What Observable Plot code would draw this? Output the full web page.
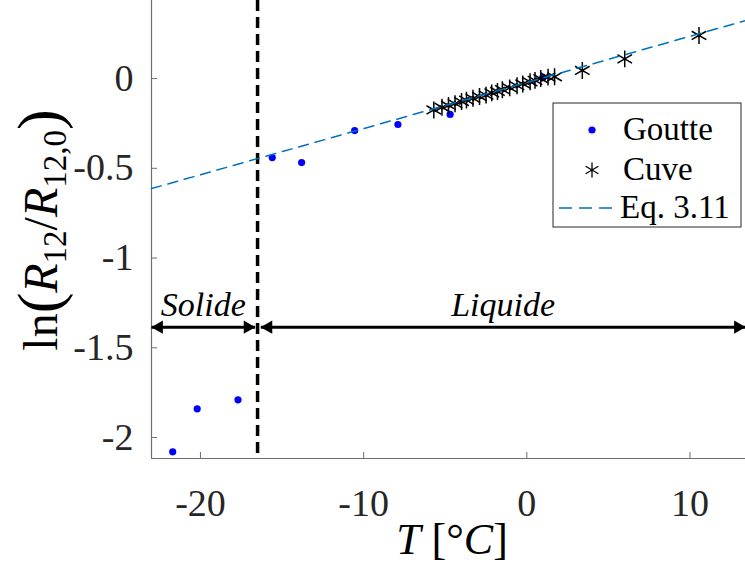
<!DOCTYPE html>
<html><head><meta charset="utf-8">
<script src="https://cdn.jsdelivr.net/npm/d3@7"></script>
<script src="https://cdn.jsdelivr.net/npm/@observablehq/plot@0.6"></script>
<style>body{margin:0;background:#fff} #chart{width:745px;height:565px}</style>
</head><body><div id="chart"></div>
<script>
// ---- data ----
const goutteT   = [-21.7, -20.2, -17.7, -15.6, -13.8, -10.55, -7.9, -4.7, 0.98];
const goutteLnR = [-2.08, -1.84, -1.79, -0.44, -0.468, -0.29, -0.256, -0.20, 0.005];
const cuveT   = [-5.7, -5.2, -4.8, -4.4, -4.0, -3.7, -3.3, -2.9, -2.5, -2.15, -1.8, -1.5, -1.05, -0.6, -0.25, 0.2, 0.5, 0.85, 1.3, 1.7, 3.4, 6.0, 10.55];
const cuveLnR = [-0.175, -0.160, -0.150, -0.140, -0.128, -0.120, -0.110, -0.100, -0.092, -0.080, -0.072, -0.062, -0.052, -0.040, -0.030, -0.018, -0.010, 0.000, 0.008, 0.010, 0.045, 0.110, 0.240];
const fitT   = [-23, 13.4];
const fitLnR = [-0.613, 0.323];
const boundaryT = [-16.5];
const phaseNames  = ["Solide", "Liquide"];
const phaseStartT = [-23, -16.3];
const phaseEndT   = [-16.65, 13.4];
const phaseLnR    = -1.385;
const xTicks = [-20, -10, 0, 10];
const yTicks = [-2, -1.5, -1, -0.5, 0];
const xDomain = [-23, 13.4];
const yDomain = [-2.117, 0.435];
const legendLabels = ["Goutte", "Cuve", "Eq. 3.11"];

const goutte = goutteT.map((t, i) => ({t, v: goutteLnR[i]}));
const cuve = cuveT.map((t, i) => ({t, v: cuveLnR[i]}));
const fit = fitT.map((t, i) => ({t, v: fitLnR[i]}));
const phases = phaseNames.map((name, i) => ({name, a: phaseStartT[i], b: phaseEndT[i], mid: (phaseStartT[i] + phaseEndT[i]) / 2, v: phaseLnR}));

const FONT = "Liberation Serif, DejaVu Serif, serif";
const axisColor = "#6e6e6e";
const tickText = "#262626";

const svg = Plot.plot({
  width: 745, height: 565,
  marginLeft: 151, marginRight: 0, marginTop: 0, marginBottom: 107,
  style: {fontFamily: FONT, background: "white"},
  x: {domain: xDomain},
  y: {domain: yDomain},
  marks: [
    Plot.ruleY([yDomain[0]], {stroke: axisColor, strokeWidth: 1.2}),
    Plot.ruleX([xDomain[0]], {stroke: axisColor, strokeWidth: 1.2}),
    Plot.axisX(xTicks, {tickSize: -6, tickPadding: 37, tickFormat: d => String(d), fontSize: 38, fill: tickText, stroke: axisColor, label: null}),
    Plot.axisY(yTicks, {tickSize: -6, tickPadding: 24, tickFormat: d => String(d), fontSize: 38, fill: tickText, stroke: axisColor, label: null}),
    Plot.ruleX(boundaryT, {stroke: "black", strokeWidth: 3.5, strokeDasharray: "11,6"}),
    Plot.link(phases, {x1: "a", x2: "b", y1: "v", y2: "v", stroke: "black", strokeWidth: 3}),
    Plot.dot(phases, {x: "a", y: "v", symbol: "triangle", rotate: -90, r: 5, fill: "black", dx: 7.5}),
    Plot.dot(phases, {x: "b", y: "v", symbol: "triangle", rotate: 90, r: 5, fill: "black", dx: -7.5}),
    Plot.text(phases, {x: "mid", y: "v", text: "name", dy: -22, fontSize: 34, fontStyle: "italic", fill: "black"}),
    Plot.dot(goutte, {x: "t", y: "v", r: 3.6, fill: "#0000ff"}),
    Plot.dot(cuve, {x: "t", y: "v", symbol: "asterisk", r: 8, stroke: "black", strokeWidth: 1.5}),
    Plot.line(fit, {x: "t", y: "v", stroke: "#0072BD", strokeWidth: 1.5, strokeDasharray: "10,7"})
  ]
});
document.getElementById("chart").appendChild(svg);

const s = d3.select(svg);
// x axis title
const xt = s.append("text").attr("x", 452).attr("y", 554).attr("text-anchor", "middle")
  .attr("font-family", FONT).attr("font-size", 44).attr("fill", "black");
xt.append("tspan").attr("font-style", "italic").text("T");
xt.append("tspan").text(" [°");
xt.append("tspan").attr("font-style", "italic").text("C");
xt.append("tspan").text("]");

// y axis title
const yt = s.append("text").attr("transform", "translate(57,230) rotate(-90)").attr("text-anchor", "middle")
  .attr("font-family", FONT).attr("font-size", 48).attr("fill", "black");
yt.append("tspan").text("ln");
yt.append("tspan").attr("font-size", 62).attr("dy", 3).text("(");
yt.append("tspan").attr("font-style", "italic").attr("dy", -3).text("R");
yt.append("tspan").attr("font-size", 33).attr("dy", 9).text("12");
yt.append("tspan").attr("dy", -9).text("/");
yt.append("tspan").attr("font-style", "italic").text("R");
yt.append("tspan").attr("font-size", 33).attr("dy", 9).text("12,0");
yt.append("tspan").attr("font-size", 62).attr("dy", -6).text(")");

// legend
const lg = s.append("g");
lg.append("rect").attr("x", 553).attr("y", 103).attr("width", 188).attr("height", 124)
  .attr("fill", "white").attr("stroke", "#262626").attr("stroke-width", 1);
lg.append("circle").attr("cx", 592).attr("cy", 130).attr("r", 3.6).attr("fill", "#0000ff");
lg.append("path").attr("transform", "translate(592,170)").attr("d", d3.symbol(d3.symbolAsterisk, Math.PI * 49)())
  .attr("fill", "none").attr("stroke", "black").attr("stroke-width", 1.3);
lg.append("line").attr("x1", 559).attr("x2", 619).attr("y1", 208).attr("y2", 208)
  .attr("stroke", "#0072BD").attr("stroke-width", 1.5).attr("stroke-dasharray", "13,7");
[140, 180, 218].forEach((y, i) => {
  lg.append("text").attr("x", i === 2 ? 620 : 623).attr("y", y).attr("text-anchor", "start")
    .attr("font-family", FONT).attr("font-size", 33).attr("fill", "black").text(legendLabels[i]);
});
</script>
</body></html>
